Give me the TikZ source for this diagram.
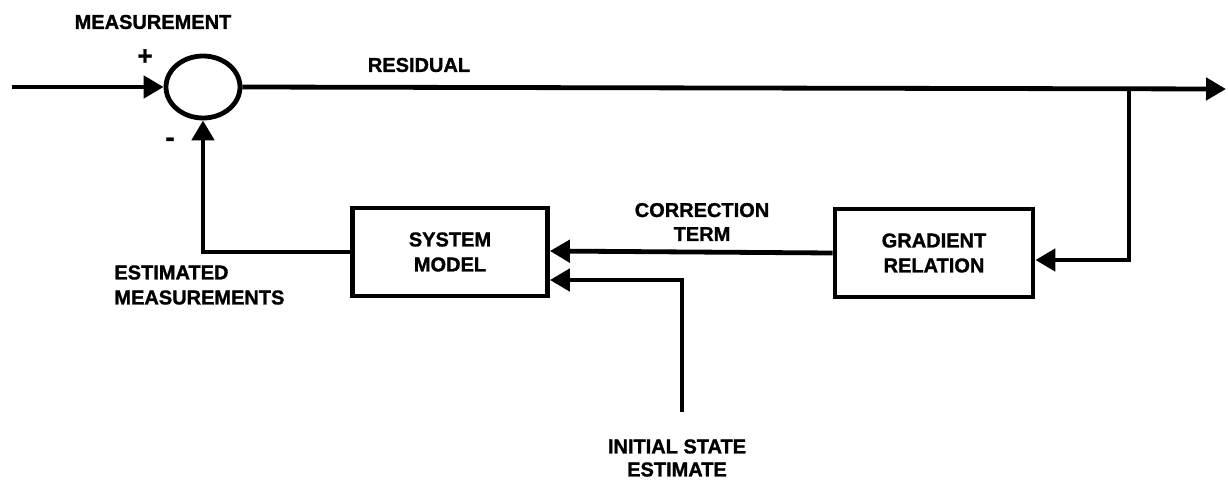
\documentclass[tikz,border=0pt]{standalone}
\usepackage{fontspec}
\setmainfont{Liberation Sans}[BoldFeatures={FakeBold=1.3}]
\usetikzlibrary{arrows.meta,shapes.geometric}
\begin{document}
\begin{tikzpicture}[x=1pt,y=-1pt,
  line width=4.8pt,
  lbl/.style={font=\fontsize{20}{24}\selectfont\bfseries, align=center, inner sep=0pt},
  blk/.style={draw, line width=4.8pt, minimum height=88pt, inner sep=0pt, font=\fontsize{20}{25}\selectfont\bfseries, align=center},
  sumj/.style={draw, ellipse, line width=4.8pt, minimum width=74pt, minimum height=62pt, inner sep=0pt},
  arr/.style={-{Triangle[length=20pt,width=22pt]}},
]
\useasboundingbox (0,0) rectangle (1228,482);
% nodes
\node[sumj] (sum) at (203,87) {};
\node[blk, minimum width=195pt] (sys) at (450,252) {SYSTEM\\MODEL};
\node[blk, minimum width=198pt] (grad) at (934,253) {GRADIENT\\RELATION};
\coordinate (in) at (12,87);
\coordinate (out) at (1226,89);
\coordinate (br) at (1129,88);
\coordinate (isin) at (682,412);
% labels
\node[lbl] (meas) at (153,22) {MEASUREMENT};
\node[lbl, font=\fontsize{26}{26}\selectfont\bfseries] (plus) at (145,57) {+};
\node[lbl, font=\fontsize{28}{28}\selectfont\bfseries] (minus) at (170,142) {-};
\node[lbl] (res) at (419,65) {RESIDUAL};
\node[lbl] (corr) at (702,222) {CORRECTION\\TERM};
\node[lbl, align=left, anchor=west, font=\fontsize{20}{25}\selectfont\bfseries] (est) at (112,285) {ESTIMATED\\MEASUREMENTS};
\node[lbl, font=\fontsize{20}{23}\selectfont\bfseries] (ise) at (677,458) {INITIAL STATE\\ESTIMATE};
% connectors
\draw[arr] (in) -- (sum.west);
\draw[arr] (sum.east) -- (out);
\draw[arr] (br) |- ([yshift=-7pt]grad.east);
\draw[arr] (grad.west) -- ([yshift=1pt]sys.east);
\draw[arr] (isin) |- ([yshift=-28pt]sys.east);
\draw[arr] (sys.west) -| (sum.south);
\end{tikzpicture}
\end{document}
